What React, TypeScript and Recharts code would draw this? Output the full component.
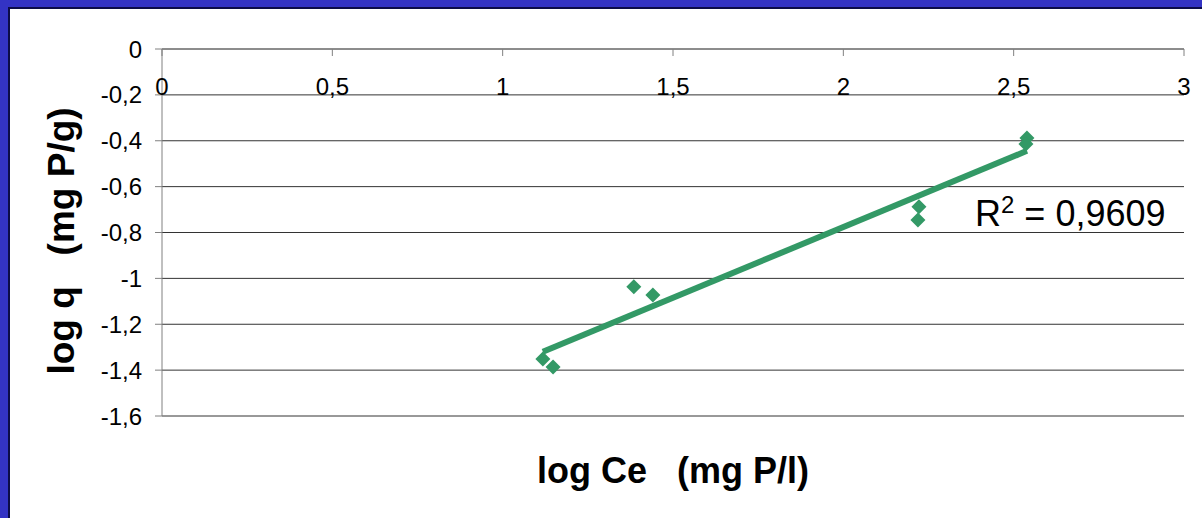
import { ScatterChart, Scatter, XAxis, YAxis, CartesianGrid, Label } from 'recharts';

// axis ticks
const xTicks = [0, 0.5, 1, 1.5, 2, 2.5, 3];
const yTicks = [0, -0.2, -0.4, -0.6, -0.8, -1, -1.2, -1.4, -1.6];

// measured points (log Ce, log q)
const logCe = [1.118, 1.148, 1.385, 1.441, 2.222, 2.219, 2.539, 2.536];
const logQ = [-1.351, -1.386, -1.037, -1.072, -0.688, -0.745, -0.388, -0.414];

// linear trendline at both ends
const trendCe = [1.118, 2.539];
const trendQ = [-1.32, -0.444];
const rSquared = '0,9609';

const GREEN = '#339966';
const FONT = '"Liberation Sans", Arial, Helvetica, sans-serif';

const points = logCe.map((x, i) => ({ x, y: logQ[i] }));
const trend = trendCe.map((x, i) => ({ x, y: trendQ[i] }));

const comma = (v: number) => String(v).replace('.', ',');

function Diamond({ cx, cy }: any) {
  const r = 7.5;
  return <polygon points={`${cx},${cy - r} ${cx + r},${cy} ${cx},${cy + r} ${cx - r},${cy}`} fill={GREEN} />;
}

// x axis sits on y = 0 (top of plot) with ticks and labels hanging below it
function TopTick({ x, y, payload }: any) {
  return (
    <g>
      <line x1={x} y1={y} x2={x} y2={y + 7} stroke="#808080" />
      <text x={x} y={y + 46} textAnchor="middle" fontSize={24} fontFamily={FONT} fill="#000">
        {comma(payload.value)}
      </text>
    </g>
  );
}

export default function App() {
  return (
    <div style={{ position: 'fixed', left: 0, top: 0, width: 1202, height: 518, background: '#3333c4' }}>
      <div
        style={{
          position: 'absolute', left: 8, top: 7, right: 0, bottom: 0,
          background: '#fff', borderLeft: '2px solid #0c0c48', borderTop: '2px solid #0c0c48',
        }}
      />
      <div style={{ position: 'absolute', left: 0, top: 0 }}>
        <ScatterChart width={1202} height={518} margin={{ top: 0, right: 18, bottom: 0, left: 0 }}>
          <CartesianGrid vertical={false} stroke="#333" />
          <XAxis
            type="number" dataKey="x" orientation="top" height={49}
            domain={[0, 3]} ticks={xTicks} allowDataOverflow
            tickSize={0} tickMargin={0} tickLine={false}
            axisLine={{ stroke: '#808080' }} tick={<TopTick />}
          />
          <XAxis
            xAxisId="title" type="number" orientation="bottom" height={102}
            domain={[0, 3]} ticks={xTicks} tick={false} tickLine={false} axisLine={false}
          >
            <Label
              content={({ viewBox }: any) => (
                <text
                  x={viewBox.x + viewBox.width / 2} y={viewBox.y + 67}
                  textAnchor="middle" fontSize={36} fontWeight="bold" fontFamily={FONT} fill="#000"
                >
                  {'log Ce\u00a0\u00a0\u00a0(mg P/l)'}
                </text>
              )}
            />
          </XAxis>
          <YAxis
            type="number" dataKey="y" width={162}
            domain={[-1.6, 0]} ticks={yTicks} allowDataOverflow
            tickSize={7} tickMargin={13} tickFormatter={comma}
            tick={{ fontSize: 24, fill: '#000', fontFamily: FONT }}
            tickLine={{ stroke: '#808080' }} axisLine={{ stroke: '#808080' }}
          >
            <Label
              content={({ viewBox }: any) => {
                const cx = viewBox.x + 74;
                const cy = viewBox.y + 192;
                return (
                  <text
                    x={cx} y={cy} transform={`rotate(-90, ${cx}, ${cy})`}
                    textAnchor="middle" fontSize={37} fontWeight="bold" fontFamily={FONT} fill="#000"
                  >
                    {'log q\u00a0\u00a0\u00a0(mg P/g)'}
                  </text>
                );
              }}
            />
          </YAxis>
          <Scatter
            data={trend} line={{ stroke: GREEN, strokeWidth: 6 }} shape={() => <g />}
            isAnimationActive={false}
          />
          <Scatter data={points} shape={<Diamond />} isAnimationActive={false} />
        </ScatterChart>
      </div>
      <div
        style={{
          position: 'absolute', left: 975, top: 196, fontSize: 36, lineHeight: '36px',
          fontFamily: FONT, color: '#000', whiteSpace: 'nowrap',
        }}
      >
        R<span style={{ fontSize: 24, position: 'relative', top: -13 }}>2</span> = {rSquared}
      </div>
    </div>
  );
}
